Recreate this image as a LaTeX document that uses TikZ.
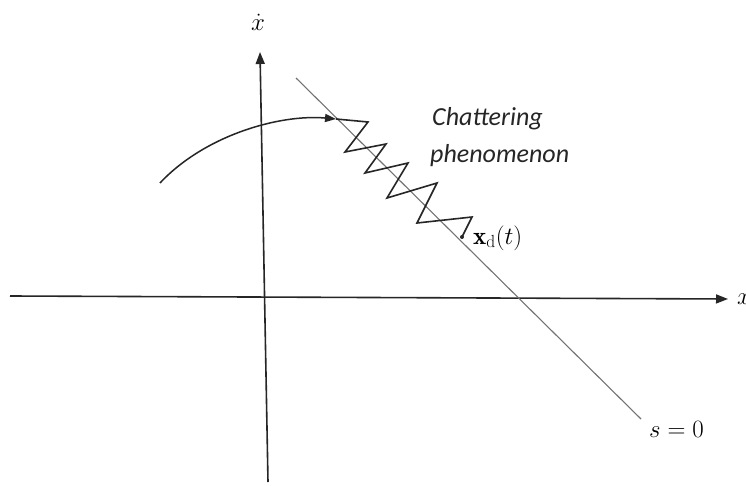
\documentclass[tikz,border=0pt]{standalone}
\usepackage{fontspec}
\usetikzlibrary{arrows.meta}
\newfontfamily\calfont{Carlito}
\begin{document}
\begin{tikzpicture}[x=1pt,y=-1pt,
  axis/.style={line width=1.6pt,draw=black!85,-{Triangle[length=12pt,width=9pt]}},
  slideline/.style={line width=1.1pt,draw=black!55},
  zig/.style={line width=1.6pt,draw=black!85,line join=miter},
  traj/.style={line width=1.5pt,draw=black!85,-{Triangle[length=11pt,width=8pt]}},
  lbl/.style={inner sep=0pt,anchor=base west},
  note/.style={lbl,font=\calfont\itshape\fontsize{26}{30}\selectfont,text=black!85}]
\useasboundingbox (0,0) rectangle (746,486);
\clip (0,0) rectangle (746,486);
\fill[white] (0,0) rectangle (746,486);
% axes
\coordinate (hs) at (10,296);
\coordinate (he) at (728,299);
\coordinate (vs) at (268,482);
\coordinate (ve) at (260,52);
\draw[axis] (hs) -- (he);
\draw[axis] (vs) -- (ve);
\node[inner sep=0pt,font=\fontsize{24}{26}\selectfont] (xdot) at (258,22) {$\dot{x}$};
\node[lbl,font=\fontsize{24}{26}\selectfont] (xlab) at (737,304) {$x$};
% sliding line
\coordinate (ls) at (296,78);
\coordinate (le) at (641,419);
\draw[slideline] (ls) -- (le);
\node[lbl,font=\fontsize{28}{30}\selectfont] (s0) at (649,437) {$s=0$};
% trajectory
\coordinate (t0) at (160,183);
\coordinate (t1) at (336,119);
\draw[traj] (t0) .. controls (205,135) and (280,114) .. (t1);
% zigzag
\coordinate (z1) at (368,122);
\coordinate (z2) at (345,152);
\coordinate (z3) at (386,144);
\coordinate (z4) at (365,173);
\coordinate (z5) at (408,163);
\coordinate (z6) at (387,198);
\coordinate (z7) at (437,183);
\coordinate (z8) at (417,223);
\coordinate (z9) at (472,217);
\coordinate (z10) at (462,237);
\draw[zig] (t1) -- (z1) -- (z2) -- (z3) -- (z4) -- (z5) -- (z6) -- (z7) -- (z8) -- (z9) -- (z10);
\fill[black!85] (z10) circle (2pt);
\node[lbl,font=\fontsize{25}{27}\selectfont] (xd) at (473,244) {$\mathbf{x}_{\mathrm{d}}(t)$};
% annotation
\node[note] (ch1) at (432,126) {Chattering};
\node[note] (ch2) at (430,163) {phenomenon};
\end{tikzpicture}
\end{document}
